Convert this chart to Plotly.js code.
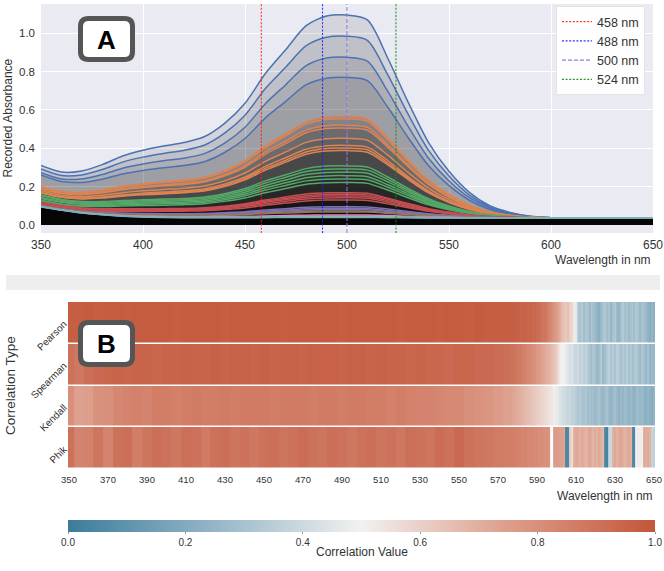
<!DOCTYPE html>
<html>
<head>
<meta charset="utf-8">
<script src="https://cdn.plot.ly/plotly-3.0.1.min.js"></script>
<style>
html,body{margin:0;padding:0;background:#fff;}
#chart{width:664px;height:571px;}
</style>
</head>
<body>
<div id="chart"></div>
<script>
// ---- Panel A: absorbance spectra (sampled every 10 nm) ----
const wavelengths = [350,360,370,380,390,400,410,420,430,440,450,460,470,480,490,500,510,520,530,540,550,560,570,580,590,600,610,620,630,640,650];

const spectraBlue = [
  [0.310,0.276,0.282,0.315,0.360,0.390,0.412,0.430,0.460,0.530,0.635,0.790,0.915,1.040,1.090,1.095,1.070,0.870,0.640,0.430,0.280,0.170,0.100,0.065,0.045,0.038,0.036,0.036,0.036,0.036,0.036],
  [0.292,0.258,0.261,0.289,0.328,0.354,0.373,0.389,0.416,0.479,0.573,0.712,0.824,0.936,0.980,0.985,0.963,0.783,0.577,0.389,0.255,0.156,0.093,0.062,0.044,0.038,0.036,0.036,0.036,0.036,0.036],
  [0.273,0.240,0.240,0.263,0.296,0.318,0.335,0.348,0.372,0.427,0.510,0.633,0.732,0.831,0.871,0.875,0.855,0.697,0.514,0.348,0.229,0.142,0.087,0.059,0.043,0.038,0.036,0.036,0.036,0.036,0.036],
  [0.261,0.227,0.222,0.239,0.266,0.284,0.298,0.310,0.330,0.378,0.451,0.559,0.645,0.732,0.766,0.770,0.753,0.614,0.455,0.309,0.205,0.129,0.080,0.056,0.042,0.037,0.036,0.036,0.036,0.036,0.036]
];
const spectraOrange = [
  [0.200,0.175,0.171,0.183,0.202,0.215,0.225,0.234,0.248,0.283,0.336,0.413,0.476,0.538,0.563,0.566,0.553,0.453,0.338,0.233,0.158,0.103,0.068,0.051,0.041,0.037,0.036,0.036,0.036,0.036,0.036],
  [0.198,0.173,0.169,0.180,0.198,0.211,0.221,0.229,0.243,0.277,0.328,0.404,0.465,0.526,0.550,0.553,0.541,0.443,0.331,0.228,0.155,0.101,0.067,0.050,0.040,0.037,0.036,0.036,0.036,0.036,0.036],
  [0.191,0.167,0.162,0.172,0.189,0.200,0.209,0.217,0.230,0.262,0.310,0.381,0.438,0.495,0.518,0.520,0.509,0.417,0.312,0.216,0.148,0.097,0.065,0.049,0.040,0.037,0.036,0.036,0.036,0.036,0.036],
  [0.188,0.164,0.159,0.168,0.184,0.195,0.204,0.211,0.224,0.255,0.301,0.370,0.425,0.481,0.503,0.505,0.494,0.406,0.304,0.211,0.144,0.095,0.064,0.049,0.040,0.037,0.036,0.036,0.036,0.036,0.036],
  [0.178,0.154,0.148,0.155,0.168,0.178,0.185,0.192,0.203,0.230,0.271,0.332,0.381,0.431,0.450,0.452,0.442,0.364,0.273,0.191,0.132,0.089,0.061,0.047,0.040,0.037,0.036,0.036,0.036,0.036,0.036],
  [0.170,0.147,0.140,0.146,0.157,0.166,0.172,0.178,0.188,0.213,0.250,0.306,0.351,0.395,0.413,0.415,0.406,0.335,0.252,0.177,0.123,0.084,0.059,0.046,0.039,0.037,0.036,0.036,0.036,0.036,0.036],
  [0.168,0.145,0.138,0.143,0.153,0.161,0.167,0.172,0.182,0.206,0.242,0.295,0.338,0.381,0.399,0.400,0.392,0.323,0.244,0.172,0.120,0.082,0.058,0.046,0.039,0.037,0.036,0.036,0.036,0.036,0.036],
  [0.167,0.144,0.136,0.140,0.150,0.157,0.162,0.168,0.177,0.200,0.235,0.286,0.328,0.369,0.386,0.388,0.379,0.313,0.237,0.167,0.117,0.081,0.057,0.046,0.039,0.037,0.036,0.036,0.036,0.036,0.036]
];
const spectraGreen = [
  [0.156,0.133,0.122,0.122,0.127,0.131,0.135,0.138,0.146,0.163,0.190,0.230,0.262,0.294,0.307,0.308,0.302,0.250,0.191,0.137,0.099,0.070,0.052,0.044,0.038,0.036,0.036,0.036,0.036,0.036,0.036],
  [0.152,0.129,0.118,0.118,0.122,0.126,0.129,0.132,0.139,0.156,0.181,0.219,0.249,0.279,0.291,0.292,0.286,0.238,0.182,0.131,0.095,0.068,0.052,0.043,0.038,0.036,0.036,0.036,0.036,0.036,0.036],
  [0.143,0.122,0.112,0.112,0.116,0.120,0.123,0.126,0.132,0.148,0.171,0.206,0.235,0.263,0.274,0.275,0.270,0.225,0.173,0.125,0.091,0.066,0.051,0.043,0.038,0.036,0.036,0.036,0.036,0.036,0.036],
  [0.138,0.118,0.108,0.107,0.111,0.114,0.116,0.119,0.125,0.139,0.161,0.194,0.220,0.246,0.256,0.257,0.252,0.210,0.162,0.118,0.087,0.064,0.049,0.042,0.038,0.036,0.036,0.036,0.036,0.036,0.036],
  [0.129,0.110,0.102,0.101,0.105,0.108,0.110,0.113,0.118,0.131,0.152,0.182,0.206,0.230,0.239,0.240,0.236,0.197,0.153,0.112,0.083,0.062,0.048,0.042,0.038,0.036,0.036,0.036,0.036,0.036,0.036],
  [0.124,0.106,0.097,0.096,0.099,0.101,0.103,0.106,0.111,0.123,0.141,0.168,0.190,0.212,0.220,0.221,0.217,0.182,0.142,0.105,0.079,0.060,0.047,0.041,0.038,0.036,0.036,0.036,0.036,0.036,0.036]
];
const spectraRed = [
  [0.120,0.101,0.089,0.085,0.084,0.084,0.085,0.086,0.090,0.098,0.111,0.130,0.146,0.162,0.168,0.168,0.165,0.140,0.112,0.085,0.067,0.053,0.044,0.040,0.037,0.036,0.036,0.036,0.036,0.036,0.036],
  [0.118,0.099,0.087,0.083,0.081,0.081,0.082,0.083,0.086,0.094,0.106,0.124,0.139,0.153,0.159,0.160,0.157,0.134,0.107,0.082,0.065,0.052,0.044,0.039,0.037,0.036,0.036,0.036,0.036,0.036,0.036],
  [0.111,0.094,0.083,0.079,0.078,0.078,0.079,0.080,0.083,0.090,0.101,0.118,0.132,0.145,0.151,0.151,0.149,0.127,0.102,0.079,0.063,0.051,0.043,0.039,0.037,0.036,0.036,0.036,0.036,0.036,0.036],
  [0.108,0.092,0.081,0.077,0.075,0.075,0.075,0.076,0.079,0.085,0.096,0.111,0.124,0.136,0.141,0.142,0.139,0.119,0.096,0.075,0.060,0.049,0.042,0.039,0.037,0.036,0.036,0.036,0.036,0.036,0.036],
  [0.100,0.085,0.076,0.072,0.071,0.071,0.071,0.072,0.074,0.080,0.089,0.103,0.114,0.125,0.130,0.130,0.128,0.110,0.090,0.071,0.058,0.048,0.042,0.039,0.037,0.036,0.036,0.036,0.036,0.036,0.036]
];
const spectraPurple = [
  [0.101,0.084,0.072,0.066,0.062,0.060,0.059,0.059,0.060,0.064,0.069,0.078,0.085,0.092,0.095,0.095,0.094,0.083,0.070,0.058,0.050,0.044,0.040,0.038,0.036,0.036,0.036,0.036,0.036,0.036,0.036],
  [0.099,0.083,0.070,0.063,0.059,0.057,0.056,0.056,0.057,0.060,0.065,0.072,0.078,0.084,0.087,0.087,0.086,0.076,0.065,0.055,0.048,0.042,0.039,0.037,0.036,0.036,0.036,0.036,0.036,0.036,0.036],
  [0.097,0.081,0.069,0.062,0.057,0.055,0.054,0.053,0.054,0.057,0.061,0.067,0.073,0.078,0.080,0.080,0.079,0.071,0.061,0.052,0.046,0.042,0.039,0.037,0.036,0.036,0.036,0.036,0.036,0.036,0.036]
];
const spectraBrown = [
  [0.101,0.083,0.069,0.061,0.056,0.053,0.051,0.051,0.051,0.053,0.057,0.062,0.067,0.071,0.073,0.073,0.072,0.065,0.057,0.050,0.045,0.041,0.038,0.037,0.036,0.036,0.036,0.036,0.036,0.036,0.036],
  [0.099,0.082,0.068,0.060,0.054,0.051,0.050,0.049,0.049,0.051,0.054,0.059,0.062,0.066,0.068,0.068,0.067,0.061,0.054,0.048,0.043,0.040,0.038,0.037,0.036,0.036,0.036,0.036,0.036,0.036,0.036]
];
const spectraPink = [
  [0.095,0.078,0.065,0.056,0.049,0.046,0.044,0.043,0.043,0.044,0.045,0.047,0.049,0.051,0.052,0.052,0.052,0.049,0.045,0.042,0.040,0.038,0.037,0.036,0.036,0.036,0.036,0.036,0.036,0.036,0.036],
  [0.094,0.077,0.063,0.054,0.048,0.044,0.042,0.041,0.041,0.041,0.042,0.044,0.045,0.046,0.047,0.047,0.047,0.045,0.042,0.040,0.039,0.037,0.036,0.036,0.036,0.036,0.036,0.036,0.036,0.036,0.036]
];
const spectraGray  = [[0.098,0.080,0.065,0.055,0.048,0.044,0.041,0.040,0.040,0.040,0.041,0.042,0.043,0.044,0.044,0.044,0.044,0.042,0.041,0.039,0.038,0.037,0.036,0.036,0.036,0.036,0.036,0.036,0.036,0.036,0.036]];
const spectraOlive = [[0.095,0.078,0.064,0.054,0.047,0.043,0.040,0.039,0.039,0.039,0.039,0.040,0.041,0.042,0.042,0.042,0.042,0.041,0.039,0.038,0.037,0.036,0.036,0.036,0.036,0.036,0.036,0.036,0.036,0.036,0.036]];
const spectraCyan  = [[0.096,0.078,0.063,0.053,0.046,0.041,0.039,0.038,0.038,0.038,0.038,0.038,0.039,0.039,0.039,0.039,0.039,0.038,0.037,0.036,0.036,0.036,0.036,0.036,0.036,0.036,0.036,0.036,0.036,0.036,0.036]];

// reference wavelengths marked with vertical lines
const markerWavelengths = [458, 488, 500, 524];

// ---- Panel B: correlation per wavelength ----
const corrTypes = ['Pearson', 'Spearman', 'Kendall', 'Phik'];
const heatWavelengths = [
  350,355,360,365,370,375,380,385,390,395,
  400,405,410,415,420,425,430,435,440,445,
  450,455,460,465,470,475,480,485,490,495,
  500,505,510,515,520,525,530,535,540,545,
  550,555,560,565,570,575,
  576,577,578,579,580,581,582,583,584,585,
  586,587,588,589,590,591,592,593,594,595,
  596,597,598,599,600,601,602,603,604,605,
  606,607,608,609,610,611,612,613,614,615,
  616,617,618,619,620,621,622,623,624,625,
  626,627,628,629,630,631,632,633,634,635,
  636,637,638,639,640,641,642,643,644,645,
  646,647,648,649,650
];
const pearson = [
  0.97,0.97,0.98,0.97,0.98,0.98,0.97,0.98,0.98,0.98,
  0.98,0.97,0.98,0.98,0.98,0.98,0.97,0.98,0.98,0.98,
  0.98,0.98,0.97,0.98,0.98,0.98,0.98,0.98,0.97,0.98,
  0.98,0.98,0.98,0.98,0.97,0.98,0.98,0.98,0.97,0.98,
  0.98,0.97,0.98,0.97,0.97,0.97,
  0.97,0.97,0.96,0.97,0.96,0.96,0.95,0.96,0.95,0.95,
  0.94,0.95,0.93,0.94,0.92,0.91,0.90,0.88,0.89,0.86,
  0.84,0.82,0.80,0.78,0.76,0.74,0.70,0.66,0.64,0.62,
  0.65,0.60,0.58,0.52,0.47,0.33,0.30,0.34,0.28,0.32,
  0.30,0.26,0.33,0.29,0.27,0.24,0.22,0.27,0.30,0.33,
  0.28,0.31,0.25,0.30,0.32,0.26,0.24,0.30,0.33,0.29,
  0.31,0.27,0.30,0.32,0.28,0.33,0.30,0.26,0.31,0.29,
  0.27,0.24,0.21,0.25,0.22
];
const spearman = [
  0.90,0.88,0.91,0.93,0.94,0.95,0.94,0.95,0.95,0.94,
  0.95,0.95,0.96,0.95,0.95,0.96,0.95,0.96,0.96,0.95,
  0.96,0.95,0.96,0.96,0.95,0.96,0.96,0.96,0.95,0.96,
  0.96,0.95,0.96,0.95,0.95,0.94,0.95,0.94,0.94,0.93,
  0.94,0.94,0.93,0.93,0.92,0.91,
  0.90,0.90,0.89,0.89,0.88,0.87,0.87,0.85,0.85,0.83,
  0.82,0.81,0.80,0.79,0.77,0.76,0.75,0.73,0.72,0.70,
  0.69,0.67,0.66,0.64,0.62,0.57,0.52,0.50,0.49,0.47,
  0.45,0.42,0.44,0.40,0.38,0.41,0.36,0.39,0.35,0.37,
  0.33,0.30,0.27,0.32,0.30,0.25,0.28,0.33,0.26,0.29,
  0.33,0.36,0.31,0.34,0.30,0.36,0.33,0.29,0.34,0.31,
  0.35,0.30,0.33,0.28,0.31,0.34,0.30,0.27,0.32,0.29,
  0.26,0.30,0.24,0.27,0.25
];
const kendall = [
  0.80,0.74,0.75,0.79,0.80,0.83,0.84,0.85,0.84,0.86,
  0.86,0.85,0.86,0.87,0.86,0.86,0.87,0.86,0.87,0.87,
  0.87,0.86,0.87,0.87,0.87,0.86,0.87,0.87,0.86,0.87,
  0.87,0.86,0.86,0.85,0.86,0.85,0.84,0.84,0.83,0.82,
  0.82,0.80,0.79,0.78,0.76,0.74,
  0.74,0.73,0.73,0.72,0.71,0.70,0.69,0.68,0.67,0.66,
  0.65,0.64,0.63,0.62,0.61,0.60,0.59,0.58,0.57,0.56,
  0.55,0.54,0.53,0.51,0.48,0.46,0.44,0.42,0.41,0.40,
  0.38,0.39,0.36,0.37,0.34,0.32,0.34,0.31,0.30,0.32,
  0.28,0.30,0.27,0.29,0.26,0.28,0.30,0.27,0.25,0.28,
  0.30,0.26,0.24,0.27,0.29,0.26,0.23,0.27,0.25,0.28,
  0.26,0.24,0.27,0.25,0.23,0.26,0.28,0.25,0.27,0.24,
  0.22,0.25,0.23,0.21,0.24
];
const phik = [
  0.90,0.84,0.85,0.89,0.84,0.90,0.91,0.86,0.89,0.91,
  0.90,0.88,0.91,0.90,0.87,0.90,0.91,0.89,0.90,0.88,
  0.90,0.91,0.89,0.90,0.92,0.90,0.89,0.91,0.90,0.88,
  0.90,0.91,0.89,0.90,0.88,0.91,0.90,0.89,0.92,0.90,
  0.93,0.90,0.89,0.88,0.87,0.86,
  0.86,0.85,0.86,0.85,0.85,0.84,0.84,0.83,0.84,0.83,
  0.82,0.83,0.82,0.81,0.82,0.80,0.81,0.80,0.79,0.80,
  0.78,null,null,0.76,0.75,0.76,0.74,0.75,0.73,0.04,
  0.06,0.60,0.57,0.70,0.72,0.71,0.69,0.72,0.70,0.68,
  0.71,0.73,0.70,0.68,0.71,0.69,0.72,0.70,0.67,0.05,
  0.03,0.38,0.40,0.70,0.72,0.69,0.71,0.73,0.70,0.68,
  0.71,0.72,0.69,0.04,0.05,0.50,0.52,0.49,0.51,0.72,
  0.70,0.71,0.69,0.38,0.36
];
const colorbarTicks = [0, 0.2, 0.4, 0.6, 0.8, 1.0];

// ---- styling ----
const W = 664, H = 571;
const px = x => x / W;
const py = y => 1 - y / H;
const FONT = 'Liberation Sans, Arial, sans-serif';
const yRangeA = [-0.042, 1.153];

const groupStyles = [
  [spectraBlue,   '#4C72B0'],
  [spectraOrange, '#DD8452'],
  [spectraGreen,  '#55A868'],
  [spectraRed,    '#C44E52'],
  [spectraPurple, '#8172B3'],
  [spectraBrown,  '#937860'],
  [spectraPink,   '#DA8BC3'],
  [spectraGray,   '#8C8C8C'],
  [spectraOlive,  '#CCB974'],
  [spectraCyan,   '#64B5CD']
];
const markerStyles = [
  {color: 'rgba(255,30,30,0.9)',  dash: '2px,1.6px'},
  {color: 'rgba(30,30,255,0.9)',  dash: '2px,1.6px'},
  {color: 'rgba(147,112,219,0.95)', dash: '4px,2px'},
  {color: 'rgba(20,140,20,0.9)',  dash: '2px,1.6px'}
];

const traces = [];
groupStyles.forEach(([curves, color]) => {
  curves.forEach(vals => {
    traces.push({
      type: 'scatter', mode: 'lines', x: wavelengths, y: vals,
      xaxis: 'x', yaxis: 'y',
      line: {color: color, width: 1.5, shape: 'spline', smoothing: 0.8},
      fill: 'tozeroy', fillcolor: 'rgba(0,0,0,0.09)',
      showlegend: false, hoverinfo: 'skip'
    });
  });
});
markerWavelengths.forEach((w, i) => {
  traces.push({
    type: 'scatter', mode: 'lines', x: [w, w], y: yRangeA,
    xaxis: 'x', yaxis: 'y', name: w + ' nm',
    line: {color: markerStyles[i].color, width: 1.1, dash: markerStyles[i].dash},
    hoverinfo: 'skip'
  });
});

traces.push({
  type: 'heatmap', x: heatWavelengths, y: corrTypes,
  z: [pearson, spearman, kendall, phik],
  xaxis: 'x2', yaxis: 'y2', zmin: 0, zmax: 1, ygap: 1.5,
  colorscale: [
    [0.0, '#3b7c9b'], [0.25, '#95b6c7'], [0.5, '#f2f1f0'],
    [0.75, '#dd9e8b'], [1.0, '#c3553a']
  ],
  hoverinfo: 'skip', showlegend: false,
  colorbar: {
    orientation: 'h', x: px(68), xanchor: 'left', y: py(520), yanchor: 'top',
    lenmode: 'pixels', len: 587, thicknessmode: 'pixels', thickness: 12,
    xpad: 0, ypad: 0, outlinewidth: 0,
    tickvals: colorbarTicks, tickformat: '.1f', ticks: 'outside', ticklen: 2,
    tickcolor: '#999', tickfont: {size: 10, color: '#333', family: FONT},
    title: {text: ''}
  }
});

function roundedBox(x0, y0, x1, y1, r) {
  const X = v => px(v), Y = v => py(v);
  return `M ${X(x0 + r)},${Y(y0)} L ${X(x1 - r)},${Y(y0)} Q ${X(x1)},${Y(y0)} ${X(x1)},${Y(y0 + r)} ` +
         `L ${X(x1)},${Y(y1 - r)} Q ${X(x1)},${Y(y1)} ${X(x1 - r)},${Y(y1)} ` +
         `L ${X(x0 + r)},${Y(y1)} Q ${X(x0)},${Y(y1)} ${X(x0)},${Y(y1 - r)} ` +
         `L ${X(x0)},${Y(y0 + r)} Q ${X(x0)},${Y(y0)} ${X(x0 + r)},${Y(y0)} Z`;
}

const tickFontA = {size: 12, color: '#333', family: FONT};
const layout = {
  width: W, height: H,
  margin: {l: 0, r: 0, t: 0, b: 0},
  paper_bgcolor: '#ffffff', plot_bgcolor: '#ffffff',
  font: {family: FONT, color: '#333'},
  showlegend: true,
  legend: {
    x: px(645), xanchor: 'right', y: py(6), yanchor: 'top',
    bgcolor: 'rgba(255,255,255,0.92)', bordercolor: '#e4e4e4', borderwidth: 1,
    font: {size: 12.5, color: '#333', family: FONT}, itemwidth: 30, tracegroupgap: 0
  },
  xaxis: {
    domain: [px(41), px(653)], anchor: 'y', range: [350, 650],
    tick0: 350, dtick: 50, showgrid: true, gridcolor: '#ffffff', gridwidth: 1,
    zeroline: false, showline: false, ticks: '', tickfont: tickFontA, ticklabelstandoff: 3
  },
  yaxis: {
    domain: [py(233), py(4)], anchor: 'x', range: yRangeA,
    tick0: 0, dtick: 0.2, tickformat: '.1f', showgrid: true, gridcolor: '#ffffff', gridwidth: 1,
    zeroline: false, showline: false, ticks: '', tickfont: {size: 11.5, color: '#333', family: FONT},
    ticklabelstandoff: 5
  },
  xaxis2: {
    domain: [px(68), px(655)], anchor: 'y2', range: [349.5, 650.5],
    tick0: 350, dtick: 20, showgrid: false, zeroline: false, showline: false, ticks: '',
    tickfont: {size: 9.5, color: '#333', family: FONT}, ticklabelstandoff: 3
  },
  yaxis2: {
    domain: [py(469), py(302)], anchor: 'x2', type: 'category', autorange: 'reversed',
    tickangle: -45, showgrid: false, zeroline: false, showline: false, ticks: '',
    tickfont: {size: 10, color: '#333', family: FONT}, ticklabelstandoff: 3
  },
  shapes: [
    {type: 'rect', xref: 'x domain', yref: 'y domain', x0: 0, x1: 1, y0: 0, y1: 1,
     fillcolor: '#EAEAF2', line: {width: 0}, layer: 'below'},
    {type: 'rect', xref: 'paper', yref: 'paper', x0: px(6), x1: px(660), y0: py(290), y1: py(275),
     fillcolor: '#eeeeee', line: {width: 0}},
    {type: 'path', xref: 'paper', yref: 'paper', path: roundedBox(80.5, 18.5, 132.5, 59.5, 8),
     fillcolor: '#ffffff', line: {color: '#555555', width: 5}},
    {type: 'path', xref: 'paper', yref: 'paper', path: roundedBox(80.5, 322.5, 132.5, 364.5, 8),
     fillcolor: '#ffffff', line: {color: '#555555', width: 5}}
  ],
  annotations: [
    {text: 'Recorded Absorbance', xref: 'paper', yref: 'paper', x: px(7), y: py(118.5),
     textangle: -90, showarrow: false, xanchor: 'center', yanchor: 'middle',
     font: {size: 12, color: '#333', family: FONT}},
    {text: 'Wavelength in nm', xref: 'paper', yref: 'paper', x: px(653), y: py(260),
     showarrow: false, xanchor: 'right', yanchor: 'middle', font: {size: 12, color: '#333', family: FONT}},
    {text: 'Correlation Type', xref: 'paper', yref: 'paper', x: px(10), y: py(386),
     textangle: -90, showarrow: false, xanchor: 'center', yanchor: 'middle',
     font: {size: 13.5, color: '#333', family: FONT}},
    {text: 'Wavelength in nm', xref: 'paper', yref: 'paper', x: px(655), y: py(496),
     showarrow: false, xanchor: 'right', yanchor: 'middle', font: {size: 12, color: '#333', family: FONT}},
    {text: 'Correlation Value', xref: 'paper', yref: 'paper', x: px(361.5), y: py(552),
     showarrow: false, xanchor: 'center', yanchor: 'middle', font: {size: 12, color: '#333', family: FONT}},
    {text: '<b>A</b>', xref: 'paper', yref: 'paper', x: px(106.5), y: py(39.5),
     showarrow: false, xanchor: 'center', yanchor: 'middle', font: {size: 26, color: '#000', family: FONT}},
    {text: '<b>B</b>', xref: 'paper', yref: 'paper', x: px(106.5), y: py(343.5),
     showarrow: false, xanchor: 'center', yanchor: 'middle', font: {size: 26, color: '#000', family: FONT}}
  ]
};

Plotly.newPlot('chart', traces, layout, {displayModeBar: false, staticPlot: true});
</script>
</body>
</html>
